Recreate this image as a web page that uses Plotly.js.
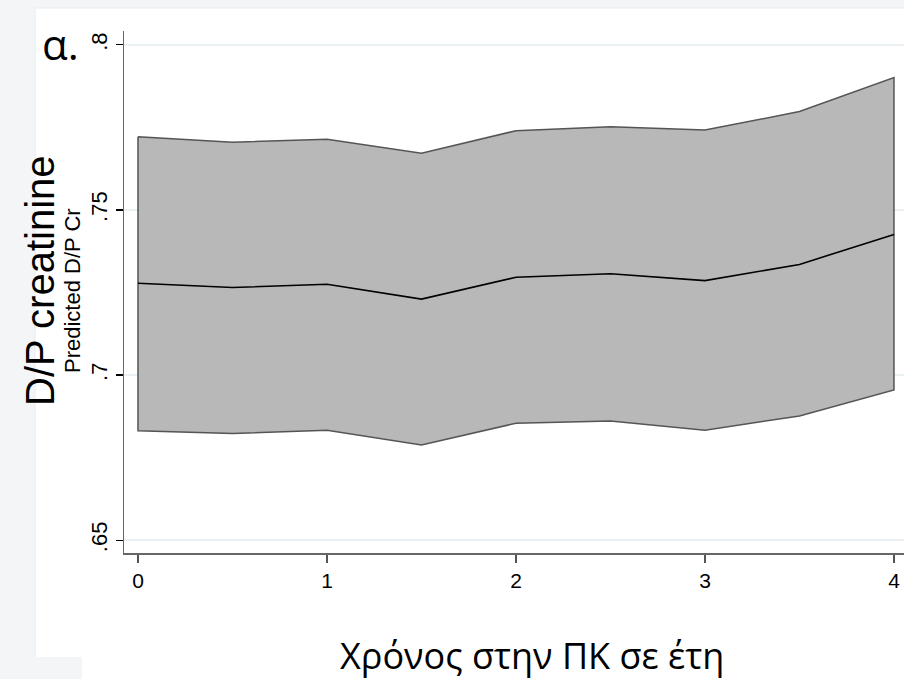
<!DOCTYPE html>
<html>
<head>
<meta charset="utf-8">
<script src="https://cdn.plot.ly/plotly-3.0.1.min.js"></script>
<style>html,body{margin:0;padding:0;background:#fff;}#chart{width:904px;height:679px;}</style>
</head>
<body>
<div id="chart"></div>
<script>
const years = [0, 0.5, 1, 1.5, 2, 2.5, 3, 3.5, 4];
const predicted = [0.7278, 0.7265, 0.7275, 0.7230, 0.7296, 0.7307, 0.7286, 0.7335, 0.7426];
const upperCI = [0.7722, 0.7705, 0.7714, 0.7672, 0.7740, 0.7752, 0.7742, 0.7798, 0.7901];
const lowerCI = [0.6831, 0.6823, 0.6833, 0.6788, 0.6854, 0.6861, 0.6833, 0.6876, 0.6955];
const yTickVals = [0.65, 0.7, 0.75, 0.8];
const yTickText = ['.65', '.7', '.75', '.8'];
const xTickVals = [0, 1, 2, 3, 4];
const xTickText = ['0', '1', '2', '3', '4'];

const polyX = years.concat(years.slice().reverse(), [years[0]]);
const polyY = upperCI.concat(lowerCI.slice().reverse(), [upperCI[0]]);

const band = {
  x: polyX, y: polyY, type: 'scatter', mode: 'lines',
  fill: 'toself', fillcolor: '#b8b8b8',
  line: {color: '#555555', width: 1.5},
  hoverinfo: 'skip', showlegend: false
};
const line = {
  x: years, y: predicted, type: 'scatter', mode: 'lines',
  line: {color: '#000000', width: 1.6}, showlegend: false
};

// plot area: left 124px, width 780px, top 31px, height 522px
function px(xPix) { return (xPix - 124) / 780; }
function py(yPix) { return (553 - yPix) / 522; }

const stripColor = '#f3f5f7';
const layout = {
  width: 904, height: 679,
  margin: {l: 124, r: 0, t: 31, b: 126},
  paper_bgcolor: '#ffffff', plot_bgcolor: '#ffffff',
  showlegend: false,
  xaxis: {
    range: [-0.074, 4.053],
    tickvals: xTickVals, ticktext: xTickText,
    ticks: 'outside', ticklen: 8, tickwidth: 1.2, tickcolor: '#555',
    showline: true, linecolor: '#666', linewidth: 1.5,
    showgrid: false, zeroline: false,
    tickfont: {family: 'Liberation Sans, Arial, sans-serif', size: 21, color: '#000'}
  },
  yaxis: {
    range: [0.6461, 0.8042],
    tickvals: yTickVals, ticktext: yTickText,
    tickangle: -90,
    ticks: 'outside', ticklen: 7, tickwidth: 1.2, tickcolor: '#000',
    showline: true, linecolor: '#666', linewidth: 1.5,
    showgrid: true, gridcolor: '#e9f1f5', gridwidth: 1.5, zeroline: false,
    tickfont: {family: 'Liberation Sans, Arial, sans-serif', size: 22, color: '#000'}
  },
  shapes: [
    {type: 'rect', xref: 'paper', yref: 'paper', x0: px(0), x1: px(35), y0: py(679), y1: py(0), fillcolor: stripColor, line: {width: 0}, layer: 'below'},
    {type: 'rect', xref: 'paper', yref: 'paper', x0: px(0), x1: px(904), y0: py(8), y1: py(0), fillcolor: stripColor, line: {width: 0}, layer: 'below'},
    {type: 'rect', xref: 'paper', yref: 'paper', x0: px(0), x1: px(82), y0: py(679), y1: py(657), fillcolor: stripColor, line: {width: 0}, layer: 'below'},
    {type: 'line', xref: 'paper', yref: 'paper', x0: px(35), x1: px(35), y0: py(657), y1: py(8), line: {color: '#e3edf1', width: 1}, layer: 'below'},
    {type: 'line', xref: 'paper', yref: 'paper', x0: px(35), x1: px(904), y0: py(8), y1: py(8), line: {color: '#e3edf1', width: 1}, layer: 'below'}
  ],
  annotations: [
    {text: 'α.', xref: 'paper', yref: 'paper', x: px(40), y: py(44), xanchor: 'left', yanchor: 'middle',
     showarrow: false, font: {family: 'Open Sans, sans-serif', size: 42, color: '#000'}},
    {text: 'D/P creatinine', xref: 'paper', yref: 'paper', x: px(40), y: py(281), xanchor: 'center', yanchor: 'middle',
     textangle: -90, showarrow: false,
     font: {family: 'Liberation Sans, Arial, sans-serif', size: 40, color: '#000'}},
    {text: 'Predicted D/P Cr', xref: 'paper', yref: 'paper', x: px(72), y: py(291), xanchor: 'center', yanchor: 'middle',
     textangle: -90, showarrow: false,
     font: {family: 'Liberation Sans, Arial, sans-serif', size: 22, color: '#000'}},
    {text: 'Χρόνος στην ΠΚ σε έτη', xref: 'paper', yref: 'paper', x: px(532), y: py(655), xanchor: 'center', yanchor: 'middle',
     showarrow: false,
     font: {family: 'Open Sans, sans-serif', size: 36, color: '#000'}}
  ]
};

Plotly.newPlot('chart', [band, line], layout, {displayModeBar: false, staticPlot: true});
</script>
</body>
</html>
